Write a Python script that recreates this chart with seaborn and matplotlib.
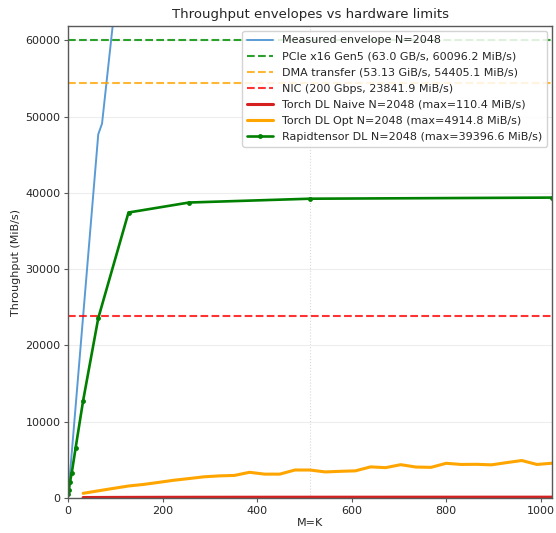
import numpy as np
import pandas as pd
import matplotlib
matplotlib.use("Agg")
import matplotlib.pyplot as plt
import seaborn as sns

# ---- data ----
env_x = [1, 2, 4, 8, 16, 32, 64, 72, 128, 256, 512, 1024]
env_y = [745, 1490, 2980, 5960, 11920, 23840, 47700, 49100, 81000, 150000, 290000, 560000]

rt_x = [1, 2, 4, 8, 16, 32, 64, 128, 256, 512, 1024]
rt_y = [500, 1050, 2050, 3320, 6520, 12770, 23580, 37440, 38750, 39250, 39396.6]

opt_x = list(range(32, 1025, 32))
opt_y = [615, 940, 1260, 1575, 1780, 2050, 2330, 2550, 2780, 2900, 2960, 3370,
         3130, 3130, 3670, 3670, 3420, 3500, 3560, 4080, 3980, 4370, 4060, 4020,
         4550, 4400, 4420, 4350, 4640, 4914.8, 4400, 4560]

naive_x = list(range(32, 1025, 32))
naive_y = [62, 70, 78, 84, 88, 92, 95, 97, 99, 100, 101, 102, 103, 104, 104, 105,
           105, 106, 106, 107, 107, 108, 108, 108, 109, 109, 109, 110, 110, 110.4, 110, 110]

pcie = 60096.2
dma = 54405.1
nic = 23841.9

labels = {
    "env": "Measured envelope N=2048",
    "pcie": "PCIe x16 Gen5 (63.0 GB/s, 60096.2 MiB/s)",
    "dma": "DMA transfer (53.13 GiB/s, 54405.1 MiB/s)",
    "nic": "NIC (200 Gbps, 23841.9 MiB/s)",
    "naive": "Torch DL Naive N=2048 (max=110.4 MiB/s)",
    "opt": "Torch DL Opt N=2048 (max=4914.8 MiB/s)",
    "rt": "Rapidtensor DL N=2048 (max=39396.6 MiB/s)",
}

sns.set_style("white")
plt.rcParams["font.family"] = ["DejaVu Sans"]

fig = plt.figure(figsize=(5.56, 5.33), dpi=100)
ax = fig.add_axes([68 / 556, 35 / 533, 484 / 556, 472 / 533])

sns.lineplot(x=env_x, y=env_y, ax=ax, color="#5b9bd5", lw=1.4, label=labels["env"])
ax.axhline(pcie, color="#2ca02c", ls="--", lw=1.5, label=labels["pcie"])
ax.axhline(dma, color="orange", ls="--", lw=1.5, alpha=0.8, label=labels["dma"])
ax.axhline(nic, color="red", ls="--", lw=1.5, alpha=0.8, label=labels["nic"])
sns.lineplot(x=naive_x, y=naive_y, ax=ax, color="#d62020", lw=2.2, label=labels["naive"])
sns.lineplot(x=opt_x, y=opt_y, ax=ax, color="#ffa500", lw=2.2, label=labels["opt"])
sns.lineplot(x=rt_x, y=rt_y, ax=ax, color="green", lw=1.9, marker="o", markersize=3.5,
             markeredgewidth=0, label=labels["rt"])

ax.axvline(512, color="0.85", ls=":", lw=0.8, zorder=0)
ax.yaxis.grid(True, color="0.93", lw=0.8)
ax.set_axisbelow(True)

ax.set_xlim(0, 1024)
ax.set_ylim(0, 61900)
ax.set_xticks([0, 200, 400, 600, 800, 1000])
ax.set_yticks([0, 10000, 20000, 30000, 40000, 50000, 60000])
ax.tick_params(axis="both", labelsize=8, length=3, pad=2.5, color="0.35", left=True, bottom=True)
for s in ax.spines.values():
    s.set_color("0.35")
    s.set_linewidth(1.0)

ax.set_xlabel("M=K", fontsize=8, labelpad=2)
ax.set_ylabel("Throughput (MiB/s)", fontsize=8, labelpad=3)
ax.set_title("Throughput envelopes vs hardware limits", fontsize=9.5, pad=6)

leg = ax.legend(loc="upper right", fontsize=8, frameon=True, framealpha=0.85,
                borderaxespad=0.45, handlelength=2.4, labelspacing=0.55)
leg.get_frame().set_edgecolor("0.8")

fig.savefig("out.png", dpi=100)
